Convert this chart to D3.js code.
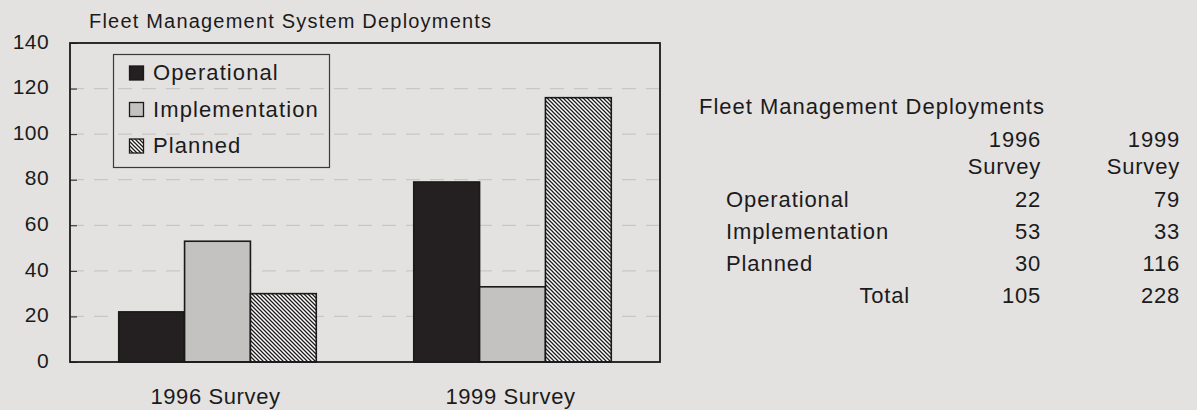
<!DOCTYPE html>
<html>
<head>
<meta charset="utf-8">
<script src="https://d3js.org/d3.v7.min.js"></script>
<style>
  body { margin: 0; background: #e4e2e0; }
  svg { display: block; font-family: "Liberation Sans", Arial, sans-serif; }
</style>
</head>
<body>
<div id="chart"></div>
<script>
// data
let categories = ['1996 Survey', '1999 Survey'];
let seriesNames = ['Operational', 'Implementation', 'Planned'];
let values1996 = [22, 53, 30];
let values1999 = [79, 33, 116];
let totals = [105, 228];
let yTicks = [0, 20, 40, 60, 80, 100, 120, 140];

let width = 1197, height = 410;
let svg = d3.select('#chart').append('svg')
    .attr('width', width)
    .attr('height', height);

let defs = svg.append('defs');
let hatch = defs.append('pattern')
    .attr('id', 'hatch')
    .attr('patternUnits', 'userSpaceOnUse')
    .attr('width', 4)
    .attr('height', 4);
hatch.append('rect').attr('width', 4).attr('height', 4).attr('fill', '#fff');
hatch.append('path')
    .attr('d', 'M-1,-1L5,5M-1,3L1,5M3,-1L5,1')
    .attr('stroke', '#1c1a1b')
    .attr('stroke-width', 1.3);

let fills = {
    Operational: '#241f20',
    Implementation: '#c3c2c1',
    Planned: 'url(#hatch)'
};

let plot = { left: 70, right: 660, top: 43, bottom: 362 };

let x0 = d3.scaleBand()
    .domain(categories)
    .range([plot.left, plot.right])
    .padding(0);
let x1 = d3.scaleBand()
    .domain(seriesNames)
    .range([0, x0.bandwidth()])
    .paddingInner(0)
    .paddingOuter(0.74);
let y = d3.scaleLinear()
    .domain([0, 140])
    .range([plot.bottom, plot.top]);

// dashed grid
svg.append('g')
    .selectAll('line')
    .data(yTicks.filter(d => d > 0 && d < 140))
    .enter().append('line')
    .attr('x1', plot.left)
    .attr('x2', plot.right)
    .attr('y1', d => y(d))
    .attr('y2', d => y(d))
    .attr('stroke', '#c9c7c5')
    .attr('stroke-width', 1.2)
    .attr('stroke-dasharray', '14,10');

// y axis labels + small inward ticks
let yAxis = d3.axisLeft(y).tickValues(yTicks).tickSize(-7).tickPadding(21);
let yG = svg.append('g')
    .attr('transform', `translate(${plot.left},0)`)
    .call(yAxis);
yG.select('.domain').remove();
yG.selectAll('line').attr('stroke', '#222').attr('stroke-width', 1);
yG.selectAll('text')
    .attr('fill', '#1b1b1b')
    .attr('dy', '0.25em')
    .style('font-size', '21px')
    .style('letter-spacing', '0.4px')
    .style('font-family', '"Liberation Sans", Arial, sans-serif');

// bars
let rows = categories.map((c, i) => ({
    cat: c,
    vals: seriesNames.map((s, j) => ({ s: s, v: (i === 0 ? values1996 : values1999)[j] }))
}));

svg.append('g')
    .selectAll('g')
    .data(rows)
    .enter().append('g')
    .attr('transform', d => `translate(${x0(d.cat)},0)`)
    .selectAll('rect')
    .data(d => d.vals)
    .enter().append('rect')
    .attr('x', d => x1(d.s))
    .attr('width', x1.bandwidth())
    .attr('y', d => y(d.v))
    .attr('height', d => y(0) - y(d.v))
    .attr('fill', d => fills[d.s])
    .attr('stroke', '#1a1a1a')
    .attr('stroke-width', 1.6);

// frame
svg.append('rect')
    .attr('x', plot.left)
    .attr('y', plot.top)
    .attr('width', plot.right - plot.left)
    .attr('height', plot.bottom - plot.top)
    .attr('fill', 'none')
    .attr('stroke', '#1a1a1a')
    .attr('stroke-width', 1.8);

// x labels
svg.append('g')
    .selectAll('text')
    .data(categories)
    .enter().append('text')
    .attr('x', d => x0(d) + x0.bandwidth() / 2 - 2)
    .attr('y', 404)
    .attr('text-anchor', 'middle')
    .attr('fill', '#1b1b1b')
    .style('font-size', '22px')
    .style('letter-spacing', '0.6px')
    .text(d => d);

// chart title
svg.append('text')
    .attr('x', 89)
    .attr('y', 28)
    .attr('fill', '#1b1b1b')
    .style('font-size', '20px')
    .style('letter-spacing', '1.2px')
    .text('Fleet Management System Deployments');

// legend
let legend = svg.append('g');
legend.append('rect')
    .attr('x', 113.5)
    .attr('y', 54.5)
    .attr('width', 216)
    .attr('height', 113)
    .attr('fill', 'none')
    .attr('stroke', '#3a3a3a')
    .attr('stroke-width', 1.2);
let item = legend.selectAll('g.item')
    .data(seriesNames)
    .enter().append('g')
    .attr('class', 'item')
    .attr('transform', (d, i) => `translate(129,${80 + i * 36.5})`);
item.append('rect')
    .attr('x', 0.5)
    .attr('y', -14)
    .attr('width', 14)
    .attr('height', 14)
    .attr('fill', d => fills[d])
    .attr('stroke', '#1a1a1a')
    .attr('stroke-width', 1.3);
item.append('text')
    .attr('x', 24)
    .attr('y', 0)
    .attr('fill', '#1b1b1b')
    .style('font-size', '22px')
    .style('letter-spacing', '1.1px')
    .text(d => d);

// table on the right
let table = svg.append('g')
    .attr('fill', '#1b1b1b')
    .style('font-size', '22px')
    .style('letter-spacing', '0.8px');
let colX = [1041, 1180];
table.append('text')
    .attr('x', 699)
    .attr('y', 114)
    .style('letter-spacing', '1px')
    .text('Fleet Management Deployments');
categories.forEach((c, i) => {
    let parts = c.split(' ');
    table.append('text').attr('x', colX[i]).attr('y', 147)
        .attr('text-anchor', 'end').text(parts[0]);
    table.append('text').attr('x', colX[i]).attr('y', 174)
        .attr('text-anchor', 'end').text(parts[1]);
});
let rowY = [207, 239, 271];
seriesNames.forEach((s, j) => {
    table.append('text').attr('x', 726).attr('y', rowY[j])
        .style('letter-spacing', '0.9px').text(s);
    table.append('text').attr('x', colX[0]).attr('y', rowY[j])
        .attr('text-anchor', 'end').text(values1996[j]);
    table.append('text').attr('x', colX[1]).attr('y', rowY[j])
        .attr('text-anchor', 'end').text(values1999[j]);
});
table.append('text').attr('x', 910).attr('y', 303)
    .attr('text-anchor', 'end').text('Total');
totals.forEach((t, i) => {
    table.append('text').attr('x', colX[i]).attr('y', 303)
        .attr('text-anchor', 'end').text(t);
});
</script>
</body>
</html>
